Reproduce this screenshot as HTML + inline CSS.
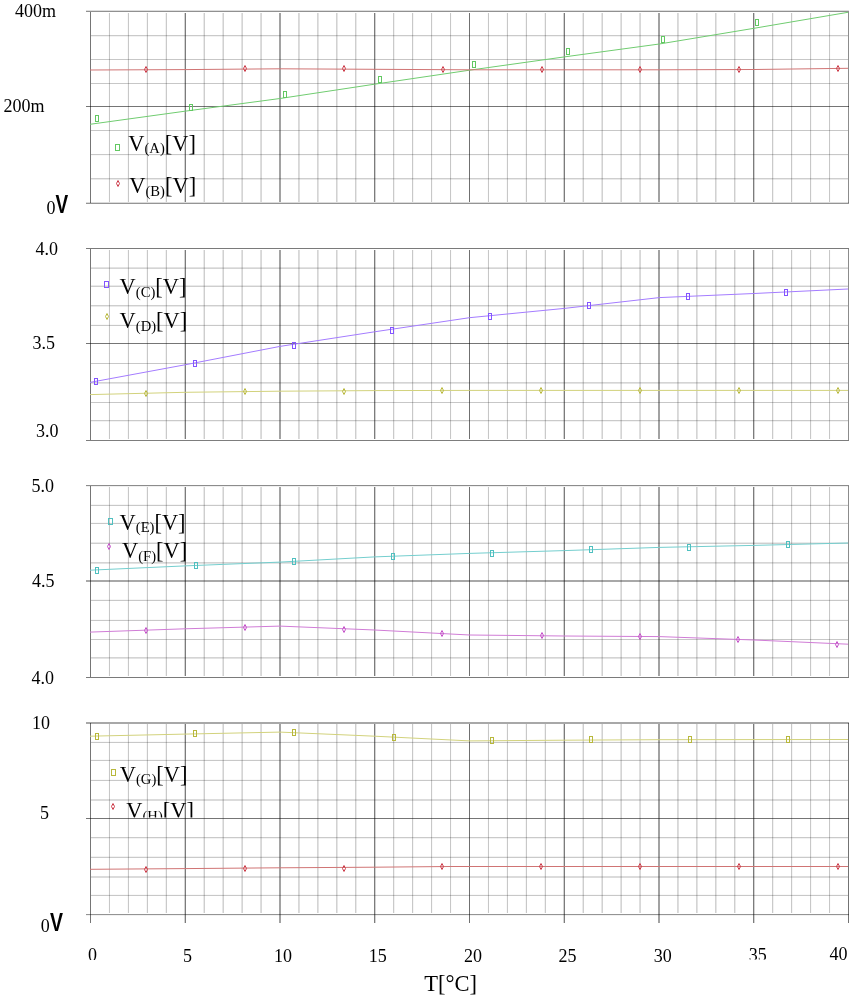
<!DOCTYPE html>
<html><head><meta charset="utf-8"><style>
html,body{margin:0;padding:0;background:#fff;width:855px;height:1000px;overflow:hidden}
svg{display:block;will-change:transform}
text{font-family:"Liberation Serif",serif;fill:#000}
.yl,.xl{font-size:18px}
.tl{font-size:22.5px}
.lg{font-size:23px}
.vb{font-family:"Liberation Sans",sans-serif;font-weight:bold;font-size:25px}
</style></head><body>
<svg width="855" height="1000" viewBox="0 0 855 1000">
<defs><clipPath id="clipH" clipPathUnits="userSpaceOnUse"><rect x="0" y="0" width="855" height="817.6"/></clipPath>
<clipPath id="clip0" clipPathUnits="userSpaceOnUse"><rect x="0" y="0" width="855" height="960"/></clipPath>
<clipPath id="clip35" clipPathUnits="userSpaceOnUse"><rect x="0" y="0" width="855" height="959.6"/></clipPath></defs>
<g fill="#000"><rect x="91.00" y="35.20" width="757.00" height="1.00" fill-opacity="0.262"/>
<rect x="91.00" y="59.00" width="757.00" height="1.00" fill-opacity="0.220"/>
<rect x="91.00" y="83.00" width="757.00" height="1.00" fill-opacity="0.220"/>
<rect x="91.00" y="130.00" width="757.00" height="1.00" fill-opacity="0.220"/>
<rect x="91.00" y="154.10" width="757.00" height="1.00" fill-opacity="0.244"/>
<rect x="91.00" y="178.30" width="757.00" height="1.00" fill-opacity="0.275"/>
<rect x="108.95" y="13.00" width="1.00" height="189.00" fill-opacity="0.233"/>
<rect x="127.90" y="13.00" width="1.00" height="189.00" fill-opacity="0.244"/>
<rect x="146.85" y="13.00" width="1.00" height="189.00" fill-opacity="0.254"/>
<rect x="165.80" y="13.00" width="1.00" height="189.00" fill-opacity="0.262"/>
<rect x="203.70" y="13.00" width="1.00" height="189.00" fill-opacity="0.275"/>
<rect x="222.65" y="13.00" width="1.00" height="189.00" fill-opacity="0.280"/>
<rect x="241.60" y="13.00" width="1.00" height="189.00" fill-opacity="0.283"/>
<rect x="260.55" y="13.00" width="1.00" height="189.00" fill-opacity="0.285"/>
<rect x="298.45" y="13.00" width="1.00" height="189.00" fill-opacity="0.285"/>
<rect x="317.40" y="13.00" width="1.00" height="189.00" fill-opacity="0.283"/>
<rect x="336.35" y="13.00" width="1.00" height="189.00" fill-opacity="0.280"/>
<rect x="355.30" y="13.00" width="1.00" height="189.00" fill-opacity="0.275"/>
<rect x="393.20" y="13.00" width="1.00" height="189.00" fill-opacity="0.262"/>
<rect x="412.15" y="13.00" width="1.00" height="189.00" fill-opacity="0.254"/>
<rect x="431.10" y="13.00" width="1.00" height="189.00" fill-opacity="0.244"/>
<rect x="450.05" y="13.00" width="1.00" height="189.00" fill-opacity="0.233"/>
<rect x="487.95" y="13.00" width="1.00" height="189.00" fill-opacity="0.233"/>
<rect x="506.90" y="13.00" width="1.00" height="189.00" fill-opacity="0.244"/>
<rect x="525.85" y="13.00" width="1.00" height="189.00" fill-opacity="0.254"/>
<rect x="544.80" y="13.00" width="1.00" height="189.00" fill-opacity="0.262"/>
<rect x="582.70" y="13.00" width="1.00" height="189.00" fill-opacity="0.275"/>
<rect x="601.65" y="13.00" width="1.00" height="189.00" fill-opacity="0.280"/>
<rect x="620.60" y="13.00" width="1.00" height="189.00" fill-opacity="0.283"/>
<rect x="639.55" y="13.00" width="1.00" height="189.00" fill-opacity="0.285"/>
<rect x="677.45" y="13.00" width="1.00" height="189.00" fill-opacity="0.285"/>
<rect x="696.40" y="13.00" width="1.00" height="189.00" fill-opacity="0.283"/>
<rect x="715.35" y="13.00" width="1.00" height="189.00" fill-opacity="0.280"/>
<rect x="734.30" y="13.00" width="1.00" height="189.00" fill-opacity="0.275"/>
<rect x="772.20" y="13.00" width="1.00" height="189.00" fill-opacity="0.262"/>
<rect x="791.15" y="13.00" width="1.00" height="189.00" fill-opacity="0.254"/>
<rect x="810.10" y="13.00" width="1.00" height="189.00" fill-opacity="0.244"/>
<rect x="829.05" y="13.00" width="1.00" height="189.00" fill-opacity="0.233"/>
<rect x="184.75" y="13.00" width="1.00" height="189.00" fill-opacity="0.686"/>
<rect x="279.50" y="13.00" width="1.00" height="189.00" fill-opacity="0.728"/>
<rect x="374.25" y="13.00" width="1.00" height="189.00" fill-opacity="0.686"/>
<rect x="469.00" y="13.00" width="1.00" height="189.00" fill-opacity="0.560"/>
<rect x="563.75" y="13.00" width="1.00" height="189.00" fill-opacity="0.686"/>
<rect x="658.50" y="13.00" width="1.00" height="189.00" fill-opacity="0.728"/>
<rect x="753.25" y="13.00" width="1.00" height="189.00" fill-opacity="0.686"/>
<rect x="86.00" y="106.00" width="763.00" height="1.00" fill-opacity="0.540"/>
<rect x="86.00" y="10.00" width="763.00" height="1.00" fill-opacity="0.130"/>
<rect x="86.00" y="11.00" width="763.00" height="1.00" fill-opacity="0.430"/>
<rect x="86.00" y="202.00" width="763.00" height="1.00" fill-opacity="0.140"/>
<rect x="86.00" y="203.00" width="763.00" height="1.00" fill-opacity="0.415"/>
<rect x="90.00" y="12.00" width="1.00" height="191.00" fill-opacity="0.540"/>
<rect x="848.00" y="12.00" width="1.00" height="191.00" fill-opacity="0.450"/><rect x="91.00" y="267.60" width="757.00" height="1.00" fill-opacity="0.283"/>
<rect x="91.00" y="285.70" width="757.00" height="1.00" fill-opacity="0.275"/>
<rect x="91.00" y="305.30" width="757.00" height="1.00" fill-opacity="0.275"/>
<rect x="91.00" y="324.90" width="757.00" height="1.00" fill-opacity="0.244"/>
<rect x="91.00" y="363.00" width="757.00" height="1.00" fill-opacity="0.220"/>
<rect x="91.00" y="382.40" width="757.00" height="1.00" fill-opacity="0.283"/>
<rect x="91.00" y="402.00" width="757.00" height="1.00" fill-opacity="0.220"/>
<rect x="91.00" y="420.20" width="757.00" height="1.00" fill-opacity="0.262"/>
<rect x="108.95" y="250.00" width="1.00" height="189.00" fill-opacity="0.233"/>
<rect x="127.90" y="250.00" width="1.00" height="189.00" fill-opacity="0.244"/>
<rect x="146.85" y="250.00" width="1.00" height="189.00" fill-opacity="0.254"/>
<rect x="165.80" y="250.00" width="1.00" height="189.00" fill-opacity="0.262"/>
<rect x="203.70" y="250.00" width="1.00" height="189.00" fill-opacity="0.275"/>
<rect x="222.65" y="250.00" width="1.00" height="189.00" fill-opacity="0.280"/>
<rect x="241.60" y="250.00" width="1.00" height="189.00" fill-opacity="0.283"/>
<rect x="260.55" y="250.00" width="1.00" height="189.00" fill-opacity="0.285"/>
<rect x="298.45" y="250.00" width="1.00" height="189.00" fill-opacity="0.285"/>
<rect x="317.40" y="250.00" width="1.00" height="189.00" fill-opacity="0.283"/>
<rect x="336.35" y="250.00" width="1.00" height="189.00" fill-opacity="0.280"/>
<rect x="355.30" y="250.00" width="1.00" height="189.00" fill-opacity="0.275"/>
<rect x="393.20" y="250.00" width="1.00" height="189.00" fill-opacity="0.262"/>
<rect x="412.15" y="250.00" width="1.00" height="189.00" fill-opacity="0.254"/>
<rect x="431.10" y="250.00" width="1.00" height="189.00" fill-opacity="0.244"/>
<rect x="450.05" y="250.00" width="1.00" height="189.00" fill-opacity="0.233"/>
<rect x="487.95" y="250.00" width="1.00" height="189.00" fill-opacity="0.233"/>
<rect x="506.90" y="250.00" width="1.00" height="189.00" fill-opacity="0.244"/>
<rect x="525.85" y="250.00" width="1.00" height="189.00" fill-opacity="0.254"/>
<rect x="544.80" y="250.00" width="1.00" height="189.00" fill-opacity="0.262"/>
<rect x="582.70" y="250.00" width="1.00" height="189.00" fill-opacity="0.275"/>
<rect x="601.65" y="250.00" width="1.00" height="189.00" fill-opacity="0.280"/>
<rect x="620.60" y="250.00" width="1.00" height="189.00" fill-opacity="0.283"/>
<rect x="639.55" y="250.00" width="1.00" height="189.00" fill-opacity="0.285"/>
<rect x="677.45" y="250.00" width="1.00" height="189.00" fill-opacity="0.285"/>
<rect x="696.40" y="250.00" width="1.00" height="189.00" fill-opacity="0.283"/>
<rect x="715.35" y="250.00" width="1.00" height="189.00" fill-opacity="0.280"/>
<rect x="734.30" y="250.00" width="1.00" height="189.00" fill-opacity="0.275"/>
<rect x="772.20" y="250.00" width="1.00" height="189.00" fill-opacity="0.262"/>
<rect x="791.15" y="250.00" width="1.00" height="189.00" fill-opacity="0.254"/>
<rect x="810.10" y="250.00" width="1.00" height="189.00" fill-opacity="0.244"/>
<rect x="829.05" y="250.00" width="1.00" height="189.00" fill-opacity="0.233"/>
<rect x="184.75" y="250.00" width="1.00" height="189.00" fill-opacity="0.686"/>
<rect x="279.50" y="250.00" width="1.00" height="189.00" fill-opacity="0.728"/>
<rect x="374.25" y="250.00" width="1.00" height="189.00" fill-opacity="0.686"/>
<rect x="469.00" y="250.00" width="1.00" height="189.00" fill-opacity="0.560"/>
<rect x="563.75" y="250.00" width="1.00" height="189.00" fill-opacity="0.686"/>
<rect x="658.50" y="250.00" width="1.00" height="189.00" fill-opacity="0.728"/>
<rect x="753.25" y="250.00" width="1.00" height="189.00" fill-opacity="0.686"/>
<rect x="86.00" y="343.00" width="763.00" height="1.00" fill-opacity="0.540"/>
<rect x="86.00" y="248.00" width="763.00" height="1.00" fill-opacity="0.520"/>
<rect x="86.00" y="440.00" width="763.00" height="1.00" fill-opacity="0.510"/>
<rect x="90.00" y="249.00" width="1.00" height="191.00" fill-opacity="0.540"/>
<rect x="848.00" y="249.00" width="1.00" height="191.00" fill-opacity="0.450"/><rect x="91.00" y="504.85" width="757.00" height="1.00" fill-opacity="0.254"/>
<rect x="91.00" y="522.90" width="757.00" height="1.00" fill-opacity="0.244"/>
<rect x="91.00" y="542.70" width="757.00" height="1.00" fill-opacity="0.275"/>
<rect x="91.00" y="562.40" width="757.00" height="1.00" fill-opacity="0.283"/>
<rect x="91.00" y="599.85" width="757.00" height="1.00" fill-opacity="0.254"/>
<rect x="91.00" y="619.90" width="757.00" height="1.00" fill-opacity="0.244"/>
<rect x="91.00" y="639.00" width="757.00" height="1.00" fill-opacity="0.220"/>
<rect x="91.00" y="657.40" width="757.00" height="1.00" fill-opacity="0.283"/>
<rect x="108.95" y="487.00" width="1.00" height="189.00" fill-opacity="0.233"/>
<rect x="127.90" y="487.00" width="1.00" height="189.00" fill-opacity="0.244"/>
<rect x="146.85" y="487.00" width="1.00" height="189.00" fill-opacity="0.254"/>
<rect x="165.80" y="487.00" width="1.00" height="189.00" fill-opacity="0.262"/>
<rect x="203.70" y="487.00" width="1.00" height="189.00" fill-opacity="0.275"/>
<rect x="222.65" y="487.00" width="1.00" height="189.00" fill-opacity="0.280"/>
<rect x="241.60" y="487.00" width="1.00" height="189.00" fill-opacity="0.283"/>
<rect x="260.55" y="487.00" width="1.00" height="189.00" fill-opacity="0.285"/>
<rect x="298.45" y="487.00" width="1.00" height="189.00" fill-opacity="0.285"/>
<rect x="317.40" y="487.00" width="1.00" height="189.00" fill-opacity="0.283"/>
<rect x="336.35" y="487.00" width="1.00" height="189.00" fill-opacity="0.280"/>
<rect x="355.30" y="487.00" width="1.00" height="189.00" fill-opacity="0.275"/>
<rect x="393.20" y="487.00" width="1.00" height="189.00" fill-opacity="0.262"/>
<rect x="412.15" y="487.00" width="1.00" height="189.00" fill-opacity="0.254"/>
<rect x="431.10" y="487.00" width="1.00" height="189.00" fill-opacity="0.244"/>
<rect x="450.05" y="487.00" width="1.00" height="189.00" fill-opacity="0.233"/>
<rect x="487.95" y="487.00" width="1.00" height="189.00" fill-opacity="0.233"/>
<rect x="506.90" y="487.00" width="1.00" height="189.00" fill-opacity="0.244"/>
<rect x="525.85" y="487.00" width="1.00" height="189.00" fill-opacity="0.254"/>
<rect x="544.80" y="487.00" width="1.00" height="189.00" fill-opacity="0.262"/>
<rect x="582.70" y="487.00" width="1.00" height="189.00" fill-opacity="0.275"/>
<rect x="601.65" y="487.00" width="1.00" height="189.00" fill-opacity="0.280"/>
<rect x="620.60" y="487.00" width="1.00" height="189.00" fill-opacity="0.283"/>
<rect x="639.55" y="487.00" width="1.00" height="189.00" fill-opacity="0.285"/>
<rect x="677.45" y="487.00" width="1.00" height="189.00" fill-opacity="0.285"/>
<rect x="696.40" y="487.00" width="1.00" height="189.00" fill-opacity="0.283"/>
<rect x="715.35" y="487.00" width="1.00" height="189.00" fill-opacity="0.280"/>
<rect x="734.30" y="487.00" width="1.00" height="189.00" fill-opacity="0.275"/>
<rect x="772.20" y="487.00" width="1.00" height="189.00" fill-opacity="0.262"/>
<rect x="791.15" y="487.00" width="1.00" height="189.00" fill-opacity="0.254"/>
<rect x="810.10" y="487.00" width="1.00" height="189.00" fill-opacity="0.244"/>
<rect x="829.05" y="487.00" width="1.00" height="189.00" fill-opacity="0.233"/>
<rect x="184.75" y="487.00" width="1.00" height="189.00" fill-opacity="0.686"/>
<rect x="279.50" y="487.00" width="1.00" height="189.00" fill-opacity="0.728"/>
<rect x="374.25" y="487.00" width="1.00" height="189.00" fill-opacity="0.686"/>
<rect x="469.00" y="487.00" width="1.00" height="189.00" fill-opacity="0.560"/>
<rect x="563.75" y="487.00" width="1.00" height="189.00" fill-opacity="0.686"/>
<rect x="658.50" y="487.00" width="1.00" height="189.00" fill-opacity="0.728"/>
<rect x="753.25" y="487.00" width="1.00" height="189.00" fill-opacity="0.686"/>
<rect x="86.00" y="580.00" width="763.00" height="2.00" fill-opacity="0.340"/>
<rect x="86.00" y="485.00" width="763.00" height="1.00" fill-opacity="0.450"/>
<rect x="86.00" y="486.00" width="763.00" height="1.00" fill-opacity="0.060"/>
<rect x="86.00" y="677.00" width="763.00" height="1.00" fill-opacity="0.520"/>
<rect x="90.00" y="486.00" width="1.00" height="191.00" fill-opacity="0.540"/>
<rect x="848.00" y="486.00" width="1.00" height="191.00" fill-opacity="0.450"/><rect x="91.00" y="741.90" width="757.00" height="1.00" fill-opacity="0.244"/>
<rect x="91.00" y="759.90" width="757.00" height="1.00" fill-opacity="0.244"/>
<rect x="91.00" y="779.90" width="757.00" height="1.00" fill-opacity="0.244"/>
<rect x="91.00" y="799.50" width="757.00" height="1.00" fill-opacity="0.286"/>
<rect x="91.00" y="837.20" width="757.00" height="1.00" fill-opacity="0.262"/>
<rect x="91.00" y="856.80" width="757.00" height="1.00" fill-opacity="0.262"/>
<rect x="91.00" y="876.50" width="757.00" height="1.00" fill-opacity="0.286"/>
<rect x="91.00" y="894.90" width="757.00" height="1.00" fill-opacity="0.244"/>
<rect x="108.95" y="724.00" width="1.00" height="189.00" fill-opacity="0.233"/>
<rect x="127.90" y="724.00" width="1.00" height="189.00" fill-opacity="0.244"/>
<rect x="146.85" y="724.00" width="1.00" height="189.00" fill-opacity="0.254"/>
<rect x="165.80" y="724.00" width="1.00" height="189.00" fill-opacity="0.262"/>
<rect x="203.70" y="724.00" width="1.00" height="189.00" fill-opacity="0.275"/>
<rect x="222.65" y="724.00" width="1.00" height="189.00" fill-opacity="0.280"/>
<rect x="241.60" y="724.00" width="1.00" height="189.00" fill-opacity="0.283"/>
<rect x="260.55" y="724.00" width="1.00" height="189.00" fill-opacity="0.285"/>
<rect x="298.45" y="724.00" width="1.00" height="189.00" fill-opacity="0.285"/>
<rect x="317.40" y="724.00" width="1.00" height="189.00" fill-opacity="0.283"/>
<rect x="336.35" y="724.00" width="1.00" height="189.00" fill-opacity="0.280"/>
<rect x="355.30" y="724.00" width="1.00" height="189.00" fill-opacity="0.275"/>
<rect x="393.20" y="724.00" width="1.00" height="189.00" fill-opacity="0.262"/>
<rect x="412.15" y="724.00" width="1.00" height="189.00" fill-opacity="0.254"/>
<rect x="431.10" y="724.00" width="1.00" height="189.00" fill-opacity="0.244"/>
<rect x="450.05" y="724.00" width="1.00" height="189.00" fill-opacity="0.233"/>
<rect x="487.95" y="724.00" width="1.00" height="189.00" fill-opacity="0.233"/>
<rect x="506.90" y="724.00" width="1.00" height="189.00" fill-opacity="0.244"/>
<rect x="525.85" y="724.00" width="1.00" height="189.00" fill-opacity="0.254"/>
<rect x="544.80" y="724.00" width="1.00" height="189.00" fill-opacity="0.262"/>
<rect x="582.70" y="724.00" width="1.00" height="189.00" fill-opacity="0.275"/>
<rect x="601.65" y="724.00" width="1.00" height="189.00" fill-opacity="0.280"/>
<rect x="620.60" y="724.00" width="1.00" height="189.00" fill-opacity="0.283"/>
<rect x="639.55" y="724.00" width="1.00" height="189.00" fill-opacity="0.285"/>
<rect x="677.45" y="724.00" width="1.00" height="189.00" fill-opacity="0.285"/>
<rect x="696.40" y="724.00" width="1.00" height="189.00" fill-opacity="0.283"/>
<rect x="715.35" y="724.00" width="1.00" height="189.00" fill-opacity="0.280"/>
<rect x="734.30" y="724.00" width="1.00" height="189.00" fill-opacity="0.275"/>
<rect x="772.20" y="724.00" width="1.00" height="189.00" fill-opacity="0.262"/>
<rect x="791.15" y="724.00" width="1.00" height="189.00" fill-opacity="0.254"/>
<rect x="810.10" y="724.00" width="1.00" height="189.00" fill-opacity="0.244"/>
<rect x="829.05" y="724.00" width="1.00" height="189.00" fill-opacity="0.233"/>
<rect x="184.75" y="724.00" width="1.00" height="199.00" fill-opacity="0.686"/>
<rect x="279.50" y="724.00" width="1.00" height="199.00" fill-opacity="0.728"/>
<rect x="374.25" y="724.00" width="1.00" height="199.00" fill-opacity="0.686"/>
<rect x="469.00" y="724.00" width="1.00" height="199.00" fill-opacity="0.560"/>
<rect x="563.75" y="724.00" width="1.00" height="199.00" fill-opacity="0.686"/>
<rect x="658.50" y="724.00" width="1.00" height="199.00" fill-opacity="0.728"/>
<rect x="753.25" y="724.00" width="1.00" height="199.00" fill-opacity="0.686"/>
<rect x="86.00" y="818.00" width="763.00" height="1.00" fill-opacity="0.540"/>
<rect x="86.00" y="722.00" width="763.00" height="1.00" fill-opacity="0.340"/>
<rect x="86.00" y="723.00" width="763.00" height="1.00" fill-opacity="0.340"/>
<rect x="86.00" y="914.00" width="763.00" height="1.00" fill-opacity="0.420"/>
<rect x="86.00" y="915.00" width="763.00" height="1.00" fill-opacity="0.050"/>
<rect x="90.00" y="723.00" width="1.00" height="200.00" fill-opacity="0.540"/>
<rect x="848.00" y="723.00" width="1.00" height="200.00" fill-opacity="0.550"/></g>
<polyline points="90,124.3 185,111.2 280,98.5 374.6,84.2 469.5,70.2 564.4,56.9 659.3,44 754,28.3 848,12.3" fill="none" stroke="#70cc70" stroke-width="1"/>
<rect x="95.5" y="115.5" width="3" height="6" fill="none" stroke="#62c862" stroke-width="1"/>
<rect x="189.5" y="104.5" width="3" height="6" fill="none" stroke="#62c862" stroke-width="1"/>
<rect x="283.5" y="91.5" width="3" height="6" fill="none" stroke="#62c862" stroke-width="1"/>
<rect x="378.5" y="76.5" width="3" height="6" fill="none" stroke="#62c862" stroke-width="1"/>
<rect x="472.5" y="61.5" width="3" height="6" fill="none" stroke="#62c862" stroke-width="1"/>
<rect x="566.5" y="48.5" width="3" height="6" fill="none" stroke="#62c862" stroke-width="1"/>
<rect x="661.5" y="36.5" width="3" height="6" fill="none" stroke="#62c862" stroke-width="1"/>
<rect x="755.5" y="19.5" width="3" height="6" fill="none" stroke="#62c862" stroke-width="1"/>
<polyline points="90,70 185,69.6 280,68.8 374.6,69.3 469.5,69.8 564.4,69.8 659.3,69.8 754,69.5 848,68.3" fill="none" stroke="#d07474" stroke-width="1"/>
<path d="M146 66.5L147.5 69.5L146 72.5L144.5 69.5Z" fill="none" stroke="#cc3a48" stroke-width="1"/>
<path d="M245 65.5L246.5 68.5L245 71.5L243.5 68.5Z" fill="none" stroke="#cc3a48" stroke-width="1"/>
<path d="M344 65.5L345.5 68.5L344 71.5L342.5 68.5Z" fill="none" stroke="#cc3a48" stroke-width="1"/>
<path d="M443 66.5L444.5 69.5L443 72.5L441.5 69.5Z" fill="none" stroke="#cc3a48" stroke-width="1"/>
<path d="M542 66.5L543.5 69.5L542 72.5L540.5 69.5Z" fill="none" stroke="#cc3a48" stroke-width="1"/>
<path d="M640 66.5L641.5 69.5L640 72.5L638.5 69.5Z" fill="none" stroke="#cc3a48" stroke-width="1"/>
<path d="M739 66.5L740.5 69.5L739 72.5L737.5 69.5Z" fill="none" stroke="#cc3a48" stroke-width="1"/>
<path d="M838 65.5L839.5 68.5L838 71.5L836.5 68.5Z" fill="none" stroke="#cc3a48" stroke-width="1"/>
<polyline points="90,382.4 185,364.8 280,346.4 374.6,331.8 469.5,317.7 564.4,308.4 659.3,297.6 754,293.5 848,289" fill="none" stroke="#a47cff" stroke-width="1"/>
<rect x="94.5" y="378.5" width="3" height="6" fill="none" stroke="#8455ff" stroke-width="1"/>
<rect x="193.5" y="360.5" width="3" height="6" fill="none" stroke="#8455ff" stroke-width="1"/>
<rect x="292.5" y="342.5" width="3" height="6" fill="none" stroke="#8455ff" stroke-width="1"/>
<rect x="390.5" y="327.5" width="3" height="6" fill="none" stroke="#8455ff" stroke-width="1"/>
<rect x="488.5" y="313.5" width="3" height="6" fill="none" stroke="#8455ff" stroke-width="1"/>
<rect x="587.5" y="302.5" width="3" height="6" fill="none" stroke="#8455ff" stroke-width="1"/>
<rect x="686.5" y="293.5" width="3" height="6" fill="none" stroke="#8455ff" stroke-width="1"/>
<rect x="784.5" y="289.5" width="3" height="6" fill="none" stroke="#8455ff" stroke-width="1"/>
<polyline points="90,394.6 185,392.3 280,391.2 374.6,390.6 469.5,390.4 848,390.4" fill="none" stroke="#d2d27c" stroke-width="1"/>
<path d="M146 390.5L147.5 393.5L146 396.5L144.5 393.5Z" fill="none" stroke="#b8b83c" stroke-width="1"/>
<path d="M245 388.5L246.5 391.5L245 394.5L243.5 391.5Z" fill="none" stroke="#b8b83c" stroke-width="1"/>
<path d="M344 388.5L345.5 391.5L344 394.5L342.5 391.5Z" fill="none" stroke="#b8b83c" stroke-width="1"/>
<path d="M442 387.5L443.5 390.5L442 393.5L440.5 390.5Z" fill="none" stroke="#b8b83c" stroke-width="1"/>
<path d="M541 387.5L542.5 390.5L541 393.5L539.5 390.5Z" fill="none" stroke="#b8b83c" stroke-width="1"/>
<path d="M640 387.5L641.5 390.5L640 393.5L638.5 390.5Z" fill="none" stroke="#b8b83c" stroke-width="1"/>
<path d="M739 387.5L740.5 390.5L739 393.5L737.5 390.5Z" fill="none" stroke="#b8b83c" stroke-width="1"/>
<path d="M838 387.5L839.5 390.5L838 393.5L836.5 390.5Z" fill="none" stroke="#b8b83c" stroke-width="1"/>
<polyline points="90,570.2 185,565.9 280,562.1 374.6,556.9 469.5,553.4 564.4,550.6 659.3,547.4 754,545.4 848,543" fill="none" stroke="#74cece" stroke-width="1"/>
<rect x="95.5" y="567.5" width="3" height="6" fill="none" stroke="#50c0c0" stroke-width="1"/>
<rect x="194.5" y="562.5" width="3" height="6" fill="none" stroke="#50c0c0" stroke-width="1"/>
<rect x="292.5" y="558.5" width="3" height="6" fill="none" stroke="#50c0c0" stroke-width="1"/>
<rect x="391.5" y="553.5" width="3" height="6" fill="none" stroke="#50c0c0" stroke-width="1"/>
<rect x="490.5" y="550.5" width="3" height="6" fill="none" stroke="#50c0c0" stroke-width="1"/>
<rect x="589.5" y="546.5" width="3" height="6" fill="none" stroke="#50c0c0" stroke-width="1"/>
<rect x="687.5" y="544.5" width="3" height="6" fill="none" stroke="#50c0c0" stroke-width="1"/>
<rect x="786.5" y="541.5" width="3" height="6" fill="none" stroke="#50c0c0" stroke-width="1"/>
<polyline points="90,632.1 185,628.8 280,626.1 374.6,630 469.5,635 564.4,636 659.3,636.6 754,640 848,644.2" fill="none" stroke="#d07cd6" stroke-width="1"/>
<path d="M146 627.5L147.5 630.5L146 633.5L144.5 630.5Z" fill="none" stroke="#c450c8" stroke-width="1"/>
<path d="M245 624.5L246.5 627.5L245 630.5L243.5 627.5Z" fill="none" stroke="#c450c8" stroke-width="1"/>
<path d="M344 626.5L345.5 629.5L344 632.5L342.5 629.5Z" fill="none" stroke="#c450c8" stroke-width="1"/>
<path d="M442 630.5L443.5 633.5L442 636.5L440.5 633.5Z" fill="none" stroke="#c450c8" stroke-width="1"/>
<path d="M542 632.5L543.5 635.5L542 638.5L540.5 635.5Z" fill="none" stroke="#c450c8" stroke-width="1"/>
<path d="M640 633.5L641.5 636.5L640 639.5L638.5 636.5Z" fill="none" stroke="#c450c8" stroke-width="1"/>
<path d="M738 636.5L739.5 639.5L738 642.5L736.5 639.5Z" fill="none" stroke="#c450c8" stroke-width="1"/>
<path d="M837 641.5L838.5 644.5L837 647.5L835.5 644.5Z" fill="none" stroke="#c450c8" stroke-width="1"/>
<polyline points="90,736.2 185,734.1 280,732.1 374.6,736.2 469.5,740.9 564.4,740.2 659.3,739.7 754,739.6 848,739.5" fill="none" stroke="#d2d27c" stroke-width="1"/>
<rect x="95.5" y="733.5" width="3" height="6" fill="none" stroke="#b8b83c" stroke-width="1"/>
<rect x="193.5" y="730.5" width="3" height="6" fill="none" stroke="#b8b83c" stroke-width="1"/>
<rect x="292.5" y="729.5" width="3" height="6" fill="none" stroke="#b8b83c" stroke-width="1"/>
<rect x="392.5" y="734.5" width="3" height="6" fill="none" stroke="#b8b83c" stroke-width="1"/>
<rect x="490.5" y="737.5" width="3" height="6" fill="none" stroke="#b8b83c" stroke-width="1"/>
<rect x="589.5" y="736.5" width="3" height="6" fill="none" stroke="#b8b83c" stroke-width="1"/>
<rect x="688.5" y="736.5" width="3" height="6" fill="none" stroke="#b8b83c" stroke-width="1"/>
<rect x="786.5" y="736.5" width="3" height="6" fill="none" stroke="#b8b83c" stroke-width="1"/>
<polyline points="90,869.3 185,868.6 280,867.8 374.6,867.2 450,866.5 848,866.5" fill="none" stroke="#d07474" stroke-width="1"/>
<path d="M146 866.5L147.5 869.5L146 872.5L144.5 869.5Z" fill="none" stroke="#cc3a48" stroke-width="1"/>
<path d="M245 865.5L246.5 868.5L245 871.5L243.5 868.5Z" fill="none" stroke="#cc3a48" stroke-width="1"/>
<path d="M344 865.5L345.5 868.5L344 871.5L342.5 868.5Z" fill="none" stroke="#cc3a48" stroke-width="1"/>
<path d="M442 863.5L443.5 866.5L442 869.5L440.5 866.5Z" fill="none" stroke="#cc3a48" stroke-width="1"/>
<path d="M541 863.5L542.5 866.5L541 869.5L539.5 866.5Z" fill="none" stroke="#cc3a48" stroke-width="1"/>
<path d="M640 863.5L641.5 866.5L640 869.5L638.5 866.5Z" fill="none" stroke="#cc3a48" stroke-width="1"/>
<path d="M739 863.5L740.5 866.5L739 869.5L737.5 866.5Z" fill="none" stroke="#cc3a48" stroke-width="1"/>
<path d="M838 863.5L839.5 866.5L838 869.5L836.5 866.5Z" fill="none" stroke="#cc3a48" stroke-width="1"/>
<text x="15.1" y="17.3" class="yl">400m</text>
<text x="3.5" y="111.5" class="yl">200m</text>
<text x="35.5" y="254.8" class="yl">4.0</text>
<text x="32.6" y="349" class="yl">3.5</text>
<text x="36" y="437" class="yl">3.0</text>
<text x="31.6" y="492" class="yl">5.0</text>
<text x="32" y="587" class="yl">4.5</text>
<text x="31.6" y="684" class="yl">4.0</text>
<text x="32" y="729" class="yl">10</text>
<text x="40" y="819.2" class="yl">5</text>
<text x="46.4" y="214" class="yl">0</text>
<text transform="translate(55.6,213.2) scale(0.76,1)" class="vb">V</text>
<text x="40.8" y="932.1" class="yl">0</text>
<text transform="translate(50.0,931.3000000000001) scale(0.78,1)" class="vb">V</text>
<text x="92.50" y="961" class="xl" text-anchor="middle" clip-path="url(#clip0)">0</text>
<text x="187.50" y="962" class="xl" text-anchor="middle">5</text>
<text x="283.00" y="962" class="xl" text-anchor="middle">10</text>
<text x="377.75" y="962" class="xl" text-anchor="middle">15</text>
<text x="473.00" y="962" class="xl" text-anchor="middle">20</text>
<text x="567.50" y="962" class="xl" text-anchor="middle">25</text>
<text x="662.75" y="962" class="xl" text-anchor="middle">30</text>
<text x="757.75" y="961" class="xl" text-anchor="middle" clip-path="url(#clip35)">35</text>
<text x="838.50" y="960" class="xl" text-anchor="middle">40</text>
<text x="424.2" y="991" class="tl">T[°C]</text>
<rect x="115.5" y="144.5" width="4" height="6" fill="none" stroke="#62c862" stroke-width="1"/>
<g><text transform="translate(128.3,151) scale(0.975,1)" class="lg">V<tspan font-size="15" dy="2.4">(A)</tspan><tspan dy="-2.4">[V]</tspan></text></g>
<path d="M118 180.5L119.5 183.5L118 186.5L116.5 183.5Z" fill="none" stroke="#cc3a48" stroke-width="1"/>
<g><text transform="translate(129.3,193.3) scale(0.975,1)" class="lg">V<tspan font-size="15" dy="2.4">(B)</tspan><tspan dy="-2.4">[V]</tspan></text></g>
<rect x="104.5" y="281.5" width="4" height="6" fill="none" stroke="#8455ff" stroke-width="1"/>
<g><text transform="translate(119.6,294.2) scale(0.975,1)" class="lg">V<tspan font-size="15" dy="2.4">(C)</tspan><tspan dy="-2.4">[V]</tspan></text></g>
<path d="M107 313.5L108.5 316.5L107 319.5L105.5 316.5Z" fill="none" stroke="#b8b83c" stroke-width="1"/>
<g><text transform="translate(119.6,328.1) scale(0.975,1)" class="lg">V<tspan font-size="15" dy="2.4">(D)</tspan><tspan dy="-2.4">[V]</tspan></text></g>
<rect x="108.5" y="518.5" width="4" height="6" fill="none" stroke="#50c0c0" stroke-width="1"/>
<g><text transform="translate(119.6,530) scale(0.975,1)" class="lg">V<tspan font-size="15" dy="2.4">(E)</tspan><tspan dy="-2.4">[V]</tspan></text></g>
<path d="M109 543.5L110.5 546.5L109 549.5L107.5 546.5Z" fill="none" stroke="#c450c8" stroke-width="1"/>
<g><text transform="translate(122,558.2) scale(0.975,1)" class="lg">V<tspan font-size="15" dy="2.4">(F)</tspan><tspan dy="-2.4">[V]</tspan></text></g>
<rect x="111.5" y="769.5" width="4" height="6" fill="none" stroke="#b8b83c" stroke-width="1"/>
<g><text transform="translate(119.8,781.7) scale(0.975,1)" class="lg">V<tspan font-size="15" dy="2.4">(G)</tspan><tspan dy="-2.4">[V]</tspan></text></g>
<path d="M113 803.5L114.5 806.5L113 809.5L111.5 806.5Z" fill="none" stroke="#cc3a48" stroke-width="1"/>
<g clip-path="url(#clipH)"><text transform="translate(126.3,818.2) scale(0.975,1)" class="lg">V<tspan font-size="15" dy="2.4">(H)</tspan><tspan dy="-2.4">[V]</tspan></text></g>
</svg>
</body></html>
